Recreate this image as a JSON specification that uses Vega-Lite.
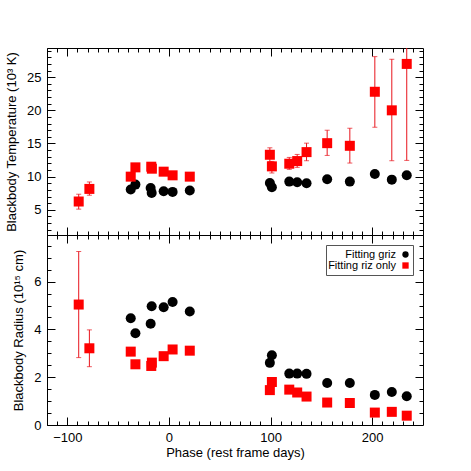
{
  "$schema": "https://vega.github.io/schema/vega-lite/v6.json",
  "padding": {"left": 5, "top": 47, "right": 10, "bottom": 5},
  "spacing": 0,
  "bounds": "flush",
  "config": {
    "font": "Liberation Sans",
    "view": {"stroke": "black", "strokeWidth": 1},
    "axis": {
      "domain": false, "grid": false,
      "labelFontSize": 13, "titleFontSize": 13, "titleFontWeight": "normal",
      "labelColor": "black", "titleColor": "black", "tickColor": "black",
      "labelFont": "Liberation Sans", "titleFont": "Liberation Sans"
    },
    "legend": {"labelFont": "Liberation Sans"}
  },
  "datasets": {
    "pts": [
      {"fit": "Fitting griz", "day": -37.6, "T": 8.05, "R": 4.47},
      {"fit": "Fitting griz", "day": -33.0, "T": 8.8, "R": 3.84},
      {"fit": "Fitting griz", "day": -18.0, "T": 8.3, "R": 4.24},
      {"fit": "Fitting griz", "day": -17.0, "T": 7.55, "R": 4.97},
      {"fit": "Fitting griz", "day": -5.2, "T": 7.8, "R": 4.93},
      {"fit": "Fitting griz", "day": 3.6, "T": 7.7, "R": 5.15},
      {"fit": "Fitting griz", "day": 20.5, "T": 7.9, "R": 4.75},
      {"fit": "Fitting griz", "day": 99.3, "T": 9.05, "R": 2.6},
      {"fit": "Fitting griz", "day": 101.3, "T": 8.4, "R": 2.92},
      {"fit": "Fitting griz", "day": 118.4, "T": 9.25, "R": 2.15},
      {"fit": "Fitting griz", "day": 126.2, "T": 9.15, "R": 2.15},
      {"fit": "Fitting griz", "day": 135.4, "T": 9.0, "R": 2.14},
      {"fit": "Fitting griz", "day": 155.7, "T": 9.6, "R": 1.76},
      {"fit": "Fitting griz", "day": 178.0, "T": 9.25, "R": 1.76},
      {"fit": "Fitting griz", "day": 202.6, "T": 10.4, "R": 1.26},
      {"fit": "Fitting griz", "day": 219.3, "T": 9.55, "R": 1.38},
      {"fit": "Fitting griz", "day": 234.0, "T": 10.2, "R": 1.2},
      {"fit": "Fitting riz only", "day": -88.8, "T": 6.25, "Tlo": 5.1, "Thi": 7.35, "R": 5.04, "Rlo": 2.82, "Rhi": 7.26},
      {"fit": "Fitting riz only", "day": -78.3, "T": 8.15, "Tlo": 7.2, "Thi": 9.2, "R": 3.21, "Rlo": 2.44, "Rhi": 3.98},
      {"fit": "Fitting riz only", "day": -37.6, "T": 10.0, "R": 3.07},
      {"fit": "Fitting riz only", "day": -33.0, "T": 11.4, "R": 2.54},
      {"fit": "Fitting riz only", "day": -17.4, "T": 11.5, "R": 2.47},
      {"fit": "Fitting riz only", "day": -16.8, "T": 11.2, "R": 2.61},
      {"fit": "Fitting riz only", "day": -5.2, "T": 10.75, "R": 2.88},
      {"fit": "Fitting riz only", "day": 3.6, "T": 10.2, "R": 3.16},
      {"fit": "Fitting riz only", "day": 20.5, "T": 10.0, "R": 3.11},
      {"fit": "Fitting riz only", "day": 99.3, "T": 13.3, "Tlo": 12.25, "Thi": 14.35, "R": 1.46},
      {"fit": "Fitting riz only", "day": 101.3, "T": 11.55, "Tlo": 10.55, "Thi": 12.3, "R": 1.8},
      {"fit": "Fitting riz only", "day": 118.4, "T": 11.95, "Tlo": 11.1, "Thi": 12.9, "R": 1.48},
      {"fit": "Fitting riz only", "day": 126.2, "T": 12.35, "Tlo": 11.4, "Thi": 13.35, "R": 1.36},
      {"fit": "Fitting riz only", "day": 135.4, "T": 13.7, "Tlo": 12.4, "Thi": 15.05, "R": 1.19},
      {"fit": "Fitting riz only", "day": 155.7, "T": 15.05, "Tlo": 13.2, "Thi": 17.0, "R": 0.94},
      {"fit": "Fitting riz only", "day": 178.0, "T": 14.65, "Tlo": 12.05, "Thi": 17.3, "R": 0.92},
      {"fit": "Fitting riz only", "day": 202.6, "T": 22.8, "Tlo": 17.45, "Thi": 28.1, "R": 0.52},
      {"fit": "Fitting riz only", "day": 219.3, "T": 20.0, "Tlo": 12.4, "Thi": 27.7, "R": 0.55},
      {"fit": "Fitting riz only", "day": 234.0, "T": 27.0, "Tlo": 12.45, "Thi": 41.5, "R": 0.39}
    ]
  },
  "resolve": {
    "scale": {"color": "independent", "shape": "independent"},
    "legend": {"color": "independent", "shape": "independent"}
  },
  "vconcat": [
    {
      "width": 376,
      "height": 187,
      "data": {"name": "pts"},
      "resolve": {"axis": {"x": "independent", "y": "independent"}},
      "layer": [
        {
          "transform": [{"filter": "isValid(datum.Tlo)"}],
          "mark": {"type": "errorbar", "color": "#e8141c", "clip": true, "ticks": {"size": 5}},
          "encoding": {
            "x": {"field": "day", "type": "quantitative", "scale": {"domain": [-120, 250], "nice": false}, "axis": null},
            "y": {"field": "Tlo", "type": "quantitative", "scale": {"domain": [1.2, 29.4], "nice": false, "zero": false}, "axis": null},
            "y2": {"field": "Thi"}
          }
        },
        {
          "mark": {"type": "point", "filled": true, "opacity": 1, "size": 100, "strokeWidth": 0},
          "encoding": {
            "x": {"field": "day", "type": "quantitative", "scale": {"domain": [-120, 250], "nice": false},
              "axis": {"orient": "bottom", "values": [-100, 0, 100, 200], "tickSize": -8, "labels": false, "title": null}},
            "y": {"field": "T", "type": "quantitative", "scale": {"domain": [1.2, 29.4], "nice": false, "zero": false},
              "axis": {"orient": "left", "values": [5, 10, 15, 20, 25], "tickSize": -8, "labelPadding": 14, "titlePadding": 8, "title": "Blackbody Temperature (10³ K)"}},
            "color": {"field": "fit", "type": "nominal", "scale": {"domain": ["Fitting griz", "Fitting riz only"], "range": ["black", "#ff0000"]}, "legend": null},
            "shape": {"field": "fit", "type": "nominal", "scale": {"domain": ["Fitting griz", "Fitting riz only"], "range": ["circle", "square"]}, "legend": null}
          }
        },
        {
          "mark": {"type": "point", "opacity": 0},
          "encoding": {
            "x": {"field": "day", "type": "quantitative", "scale": {"domain": [-120, 250], "nice": false},
              "axis": {"orient": "bottom", "values": [-120, -110, -90, -80, -70, -60, -50, -40, -30, -20, -10, 10, 20, 30, 40, 50, 60, 70, 80, 90, 110, 120, 130, 140, 150, 160, 170, 180, 190, 210, 220, 230, 240], "tickSize": -4, "labels": false, "title": null}},
            "y": {"field": "T", "type": "quantitative", "scale": {"domain": [1.2, 29.4], "nice": false, "zero": false},
              "axis": {"orient": "left", "values": [2, 3, 4, 6, 7, 8, 9, 11, 12, 13, 14, 16, 17, 18, 19, 21, 22, 23, 24, 26, 27, 28, 29], "tickSize": -4, "labels": false, "title": null}}
          }
        },
        {
          "mark": {"type": "point", "opacity": 0},
          "encoding": {
            "x": {"field": "day", "type": "quantitative", "scale": {"domain": [-120, 250], "nice": false},
              "axis": {"orient": "top", "values": [-100, 0, 100, 200], "tickSize": -8, "labels": false, "title": null}},
            "y": {"field": "T", "type": "quantitative", "scale": {"domain": [1.2, 29.4], "nice": false, "zero": false},
              "axis": {"orient": "right", "values": [5, 10, 15, 20, 25], "tickSize": -8, "labels": false, "title": null}}
          }
        },
        {
          "mark": {"type": "point", "opacity": 0},
          "encoding": {
            "x": {"field": "day", "type": "quantitative", "scale": {"domain": [-120, 250], "nice": false},
              "axis": {"orient": "top", "values": [-120, -110, -90, -80, -70, -60, -50, -40, -30, -20, -10, 10, 20, 30, 40, 50, 60, 70, 80, 90, 110, 120, 130, 140, 150, 160, 170, 180, 190, 210, 220, 230, 240], "tickSize": -4, "labels": false, "title": null}},
            "y": {"field": "T", "type": "quantitative", "scale": {"domain": [1.2, 29.4], "nice": false, "zero": false},
              "axis": {"orient": "right", "values": [2, 3, 4, 6, 7, 8, 9, 11, 12, 13, 14, 16, 17, 18, 19, 21, 22, 23, 24, 26, 27, 28, 29], "tickSize": -4, "labels": false, "title": null}}
          }
        }
      ]
    },
    {
      "width": 376,
      "height": 190,
      "data": {"name": "pts"},
      "resolve": {"axis": {"x": "independent", "y": "independent"}},
      "layer": [
        {
          "transform": [{"filter": "isValid(datum.Rlo)"}],
          "mark": {"type": "errorbar", "color": "#e8141c", "clip": true, "ticks": {"size": 5}},
          "encoding": {
            "x": {"field": "day", "type": "quantitative", "scale": {"domain": [-120, 250], "nice": false}, "axis": null},
            "y": {"field": "Rlo", "type": "quantitative", "scale": {"domain": [0, 7.95], "nice": false}, "axis": null},
            "y2": {"field": "Rhi"}
          }
        },
        {
          "mark": {"type": "point", "filled": true, "opacity": 1, "size": 100, "strokeWidth": 0},
          "encoding": {
            "x": {"field": "day", "type": "quantitative", "scale": {"domain": [-120, 250], "nice": false},
              "axis": {"orient": "bottom", "values": [-100, 0, 100, 200], "tickSize": -8, "labelPadding": 14, "titlePadding": 2, "title": "Phase (rest frame days)"}},
            "y": {"field": "R", "type": "quantitative", "scale": {"domain": [0, 7.95], "nice": false},
              "axis": {"orient": "left", "values": [0, 2, 4, 6], "tickSize": -8, "labelPadding": 14, "titlePadding": 8, "title": "Blackbody Radius (10¹⁵ cm)"}},
            "color": {"field": "fit", "type": "nominal", "scale": {"domain": ["Fitting griz", "Fitting riz only"], "range": ["black", "#ff0000"]},
              "legend": {"orient": "top-right", "offset": 10, "title": null, "padding": 4, "strokeColor": "#555", "fillColor": "white", "labelFontSize": 11, "labelColor": "black", "symbolSize": 40, "rowPadding": -2, "labelAlign": "right", "labelOffset": -15, "symbolOffset": 70}},
            "shape": {"field": "fit", "type": "nominal", "scale": {"domain": ["Fitting griz", "Fitting riz only"], "range": ["circle", "square"]},
              "legend": {"orient": "top-right", "offset": 10, "title": null, "padding": 4, "strokeColor": "#555", "fillColor": "white", "labelFontSize": 11, "labelColor": "black", "symbolSize": 40, "rowPadding": -2, "labelAlign": "right", "labelOffset": -15, "symbolOffset": 70}}
          }
        },
        {
          "mark": {"type": "point", "opacity": 0},
          "encoding": {
            "x": {"field": "day", "type": "quantitative", "scale": {"domain": [-120, 250], "nice": false},
              "axis": {"orient": "bottom", "values": [-120, -110, -90, -80, -70, -60, -50, -40, -30, -20, -10, 10, 20, 30, 40, 50, 60, 70, 80, 90, 110, 120, 130, 140, 150, 160, 170, 180, 190, 210, 220, 230, 240], "tickSize": -4, "labels": false, "title": null}},
            "y": {"field": "R", "type": "quantitative", "scale": {"domain": [0, 7.95], "nice": false},
              "axis": {"orient": "left", "values": [0.5, 1, 1.5, 2.5, 3, 3.5, 4.5, 5, 5.5, 6.5, 7, 7.5], "tickSize": -4, "labels": false, "title": null}}
          }
        },
        {
          "mark": {"type": "point", "opacity": 0},
          "encoding": {
            "x": {"field": "day", "type": "quantitative", "scale": {"domain": [-120, 250], "nice": false},
              "axis": {"orient": "top", "values": [-100, 0, 100, 200], "tickSize": -8, "labels": false, "title": null}},
            "y": {"field": "R", "type": "quantitative", "scale": {"domain": [0, 7.95], "nice": false},
              "axis": {"orient": "right", "values": [2, 4, 6], "tickSize": -8, "labels": false, "title": null}}
          }
        },
        {
          "mark": {"type": "point", "opacity": 0},
          "encoding": {
            "x": {"field": "day", "type": "quantitative", "scale": {"domain": [-120, 250], "nice": false},
              "axis": {"orient": "top", "values": [-120, -110, -90, -80, -70, -60, -50, -40, -30, -20, -10, 10, 20, 30, 40, 50, 60, 70, 80, 90, 110, 120, 130, 140, 150, 160, 170, 180, 190, 210, 220, 230, 240], "tickSize": -4, "labels": false, "title": null}},
            "y": {"field": "R", "type": "quantitative", "scale": {"domain": [0, 7.95], "nice": false},
              "axis": {"orient": "right", "values": [0.5, 1, 1.5, 2.5, 3, 3.5, 4.5, 5, 5.5, 6.5, 7, 7.5], "tickSize": -4, "labels": false, "title": null}}
          }
        }
      ]
    }
  ]
}
